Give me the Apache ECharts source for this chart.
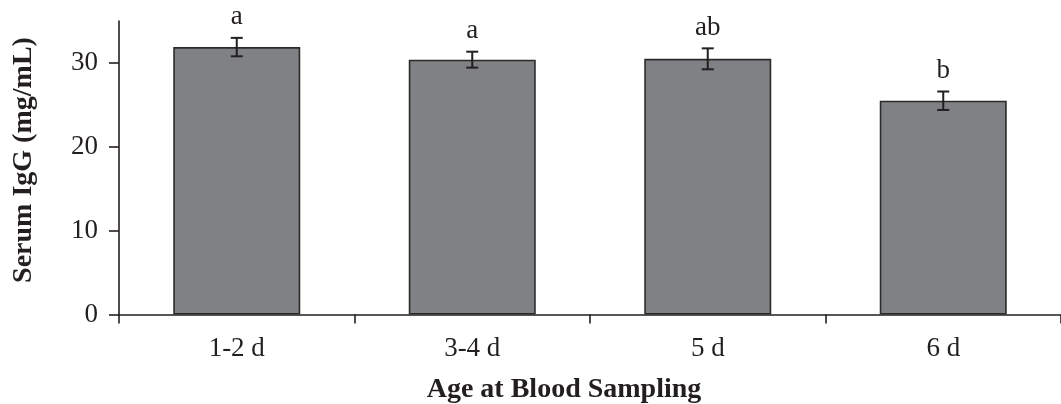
<!DOCTYPE html>
<html>
<head>
<meta charset="utf-8">
<script src="https://cdn.jsdelivr.net/npm/echarts@6/dist/echarts.min.js"></script>
<style>html,body{margin:0;padding:0;background:#fff;}#chart{width:1061px;height:404px;}</style>
</head>
<body>
<div id="chart"></div>
<script>
const categories = ['1-2 d', '3-4 d', '5 d', '6 d'];
const means = [31.9, 30.4, 30.5, 25.5];
const errors = [1.1, 0.95, 1.25, 1.1];
const letters = ['a', 'a', 'ab', 'b'];
const yTicks = [0, 10, 20, 30];

const FONT = '"Liberation Serif", "Times New Roman", serif';
const INK = '#231f20';

const errData = categories.map((c, i) => [i, means[i] - errors[i], means[i] + errors[i]]);

const chart = echarts.init(document.getElementById('chart'), null, {renderer: 'canvas'});
chart.setOption({
  animation: false,
  backgroundColor: '#ffffff',
  grid: {left: 119, width: 950, top: 21.1, bottom: 89.5, containLabel: false},
  xAxis: {
    type: 'category',
    data: categories,
    boundaryGap: true,
    axisLine: {lineStyle: {color: INK, width: 1.6}},
    axisTick: {show: true, length: 9, alignWithLabel: false, lineStyle: {color: INK, width: 1.6}},
    axisLabel: {color: INK, fontFamily: FONT, fontSize: 27, margin: 21},
    splitLine: {show: false}
  },
  yAxis: {
    type: 'value',
    min: 0, max: 35, interval: 10,
    axisLine: {show: true, lineStyle: {color: INK, width: 1.6}},
    axisTick: {show: true, length: 10, customValues: yTicks, lineStyle: {color: INK, width: 1.6}},
    axisLabel: {color: INK, fontFamily: FONT, fontSize: 27, margin: 21, customValues: yTicks},
    splitLine: {show: false}
  },
  graphic: [
    {type: 'text', x: 564, y: 390, style: {text: 'Age at Blood Sampling', font: 'bold 28px ' + FONT, fill: INK, align: 'center', verticalAlign: 'middle'}},
    {type: 'text', x: 24, y: 160, rotation: Math.PI / 2, style: {text: 'Serum IgG (mg/mL)', font: 'bold 28px ' + FONT, fill: INK, align: 'center', verticalAlign: 'middle'}}
  ],
  series: [
    {
      type: 'bar',
      data: means,
      barWidth: 127,
      itemStyle: {color: '#808184', borderColor: '#2b2b2b', borderWidth: 1.6},
      z: 2
    },
    {
      type: 'custom',
      z: 3,
      data: errData,
      renderItem: function (params, api) {
        const i = api.value(0);
        const lo = api.coord([i, api.value(1)]);
        const hi = api.coord([i, api.value(2)]);
        const x = hi[0];
        const cap = 6;
        const st = {stroke: INK, lineWidth: 2};
        return {
          type: 'group',
          children: [
            {type: 'line', shape: {x1: x, y1: hi[1], x2: x, y2: lo[1]}, style: st},
            {type: 'line', shape: {x1: x - cap, y1: hi[1], x2: x + cap, y2: hi[1]}, style: st},
            {type: 'line', shape: {x1: x - cap, y1: lo[1], x2: x + cap, y2: lo[1]}, style: st},
            {type: 'text', x: x, y: hi[1] - 7, style: {text: letters[params.dataIndex], font: '27px ' + FONT, fill: INK, align: 'center', verticalAlign: 'bottom'}}
          ]
        };
      }
    }
  ]
});
</script>
</body>
</html>
